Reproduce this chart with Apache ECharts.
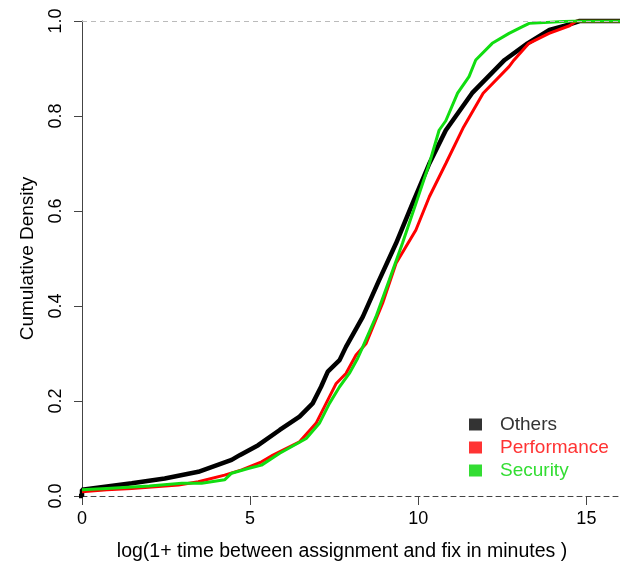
<!DOCTYPE html>
<html>
<head>
<meta charset="utf-8">
<script src="https://cdn.jsdelivr.net/npm/echarts@6/dist/echarts.min.js"></script>
<style>
  html, body { margin: 0; padding: 0; background: #fff; }
  #main { width: 633px; height: 568px; }
</style>
</head>
<body>
<div id="main"></div>
<script>
// ECDF curves
var othersX = [-0.55, 0, 0, 0.74, 1.48, 2.46, 3.46, 4.45, 4.69, 5.24, 5.88, 6.47, 6.86, 7.11, 7.31, 7.66, 7.85, 8.35, 8.84, 9.34, 9.83, 10.33, 10.82, 11.6, 12.57, 13.25, 13.9, 14.5, 14.8, 16];
var othersY = [0.0, 0.0, 0.013, 0.02, 0.027, 0.037, 0.051, 0.076, 0.086, 0.107, 0.139, 0.167, 0.195, 0.23, 0.262, 0.286, 0.314, 0.377, 0.455, 0.532, 0.616, 0.70, 0.77, 0.848, 0.918, 0.953, 0.981, 0.993, 1.0, 1.0];

var perfX = [0, 0.74, 1.48, 2.87, 3.46, 4.24, 4.75, 5.34, 5.68, 6.47, 6.96, 7.26, 7.56, 7.85, 8.15, 8.45, 8.94, 9.34, 9.93, 10.33, 10.82, 11.35, 11.93, 12.7, 12.85, 13.29, 13.89, 14.5, 14.7, 16];
var perfY = [0.009, 0.013, 0.016, 0.023, 0.03, 0.044, 0.055, 0.072, 0.086, 0.114, 0.153, 0.195, 0.237, 0.258, 0.297, 0.321, 0.406, 0.49, 0.56, 0.63, 0.70, 0.777, 0.848, 0.904, 0.918, 0.953, 0.974, 0.99, 1.0, 1.0];

var secX = [0, 0.74, 2, 2.97, 3.56, 4.24, 4.45, 4.94, 5.34, 5.88, 6.67, 7.06, 7.36, 7.66, 7.95, 8.2, 8.35, 8.74, 9.14, 9.53, 9.93, 10.33, 10.62, 10.82, 11.17, 11.51, 11.71, 12.2, 12.7, 13.1, 13.3, 14.6, 16];
var secY = [0.013, 0.016, 0.021, 0.027, 0.027, 0.034, 0.048, 0.058, 0.065, 0.09, 0.121, 0.153, 0.195, 0.23, 0.258, 0.29, 0.314, 0.377, 0.455, 0.532, 0.616, 0.70, 0.77, 0.79, 0.848, 0.883, 0.918, 0.953, 0.974, 0.988, 0.995, 1.0, 1.0];

var xTicks = [0, 5, 10, 15];
var yTicks = [0, 0.2, 0.4, 0.6, 0.8, 1.0];

function pairs(xs, ys) {
  var out = [];
  for (var i = 0; i < xs.length; i++) {
    out.push([xs[i], ys[i]]);
  }
  return out;
}

var font = 'Liberation Sans, Arial, sans-serif';
var chart = echarts.init(document.getElementById('main'), null, { renderer: 'canvas' });

var option = {
  backgroundColor: '#fff',
  animation: false,
  grid: { left: 82, right: 13, top: 21, bottom: 72 },
  legend: {
    orient: 'vertical',
    left: 464,
    top: 410,
    itemWidth: 13,
    itemHeight: 12,
    itemGap: 4,
    icon: 'rect',
    textStyle: { fontFamily: font, fontSize: 19, padding: [0, 0, 0, 13] },
    data: [
      { name: 'Others', itemStyle: { color: '#333' }, textStyle: { color: '#333' } },
      { name: 'Performance', itemStyle: { color: '#ff3333' }, textStyle: { color: '#ff3333' } },
      { name: 'Security', itemStyle: { color: '#33dd33' }, textStyle: { color: '#33dd33' } }
    ]
  },
  xAxis: {
    type: 'value',
    min: 0,
    max: 16,
    name: 'log(1+ time between assignment and fix in minutes )',
    nameLocation: 'middle',
    nameGap: 46,
    nameTextStyle: { fontFamily: font, fontSize: 19.5, color: '#000', padding: [0, 18, 0, 0] },
    axisLine: { show: true, lineStyle: { color: '#444', type: [5, 4], width: 1 } },
    axisTick: { show: true, length: 9, customValues: xTicks, lineStyle: { color: '#444' } },
    axisLabel: { customValues: xTicks, margin: 14, fontFamily: font, fontSize: 18, color: '#000' },
    splitLine: { show: false }
  },
  yAxis: {
    type: 'value',
    min: 0,
    max: 1,
    name: 'Cumulative Density',
    nameLocation: 'middle',
    nameGap: 45,
    nameTextStyle: { fontFamily: font, fontSize: 19, color: '#000' },
    axisLine: { show: true, lineStyle: { color: '#444', width: 1 } },
    axisTick: { show: true, length: 8, customValues: yTicks, lineStyle: { color: '#444' } },
    axisLabel: {
      customValues: yTicks,
      rotate: 90,
      margin: 17,
      fontFamily: font,
      fontSize: 18,
      color: '#000',
      formatter: function (v) { return v.toFixed(1); }
    },
    splitLine: { show: false }
  },
  series: [
    {
      name: 'Others',
      type: 'line',
      data: pairs(othersX, othersY),
      showSymbol: false,
      clip: false,
      lineStyle: { color: '#000', width: 4.5 },
      itemStyle: { color: '#000' },
      markLine: {
        silent: true,
        symbol: 'none',
        label: { show: false },
        lineStyle: { color: '#bbb', type: [5, 4], width: 1 },
        data: [{ yAxis: 1 }]
      }
    },
    {
      name: 'Performance',
      type: 'line',
      data: pairs(perfX, perfY),
      showSymbol: false,
      lineStyle: { color: '#ff0000', width: 3 },
      itemStyle: { color: '#ff0000' }
    },
    {
      name: 'Security',
      type: 'line',
      data: pairs(secX, secY),
      showSymbol: false,
      lineStyle: { color: '#11dd11', width: 3 },
      itemStyle: { color: '#11dd11' }
    }
  ]
};
chart.setOption(option);
</script>
</body>
</html>
